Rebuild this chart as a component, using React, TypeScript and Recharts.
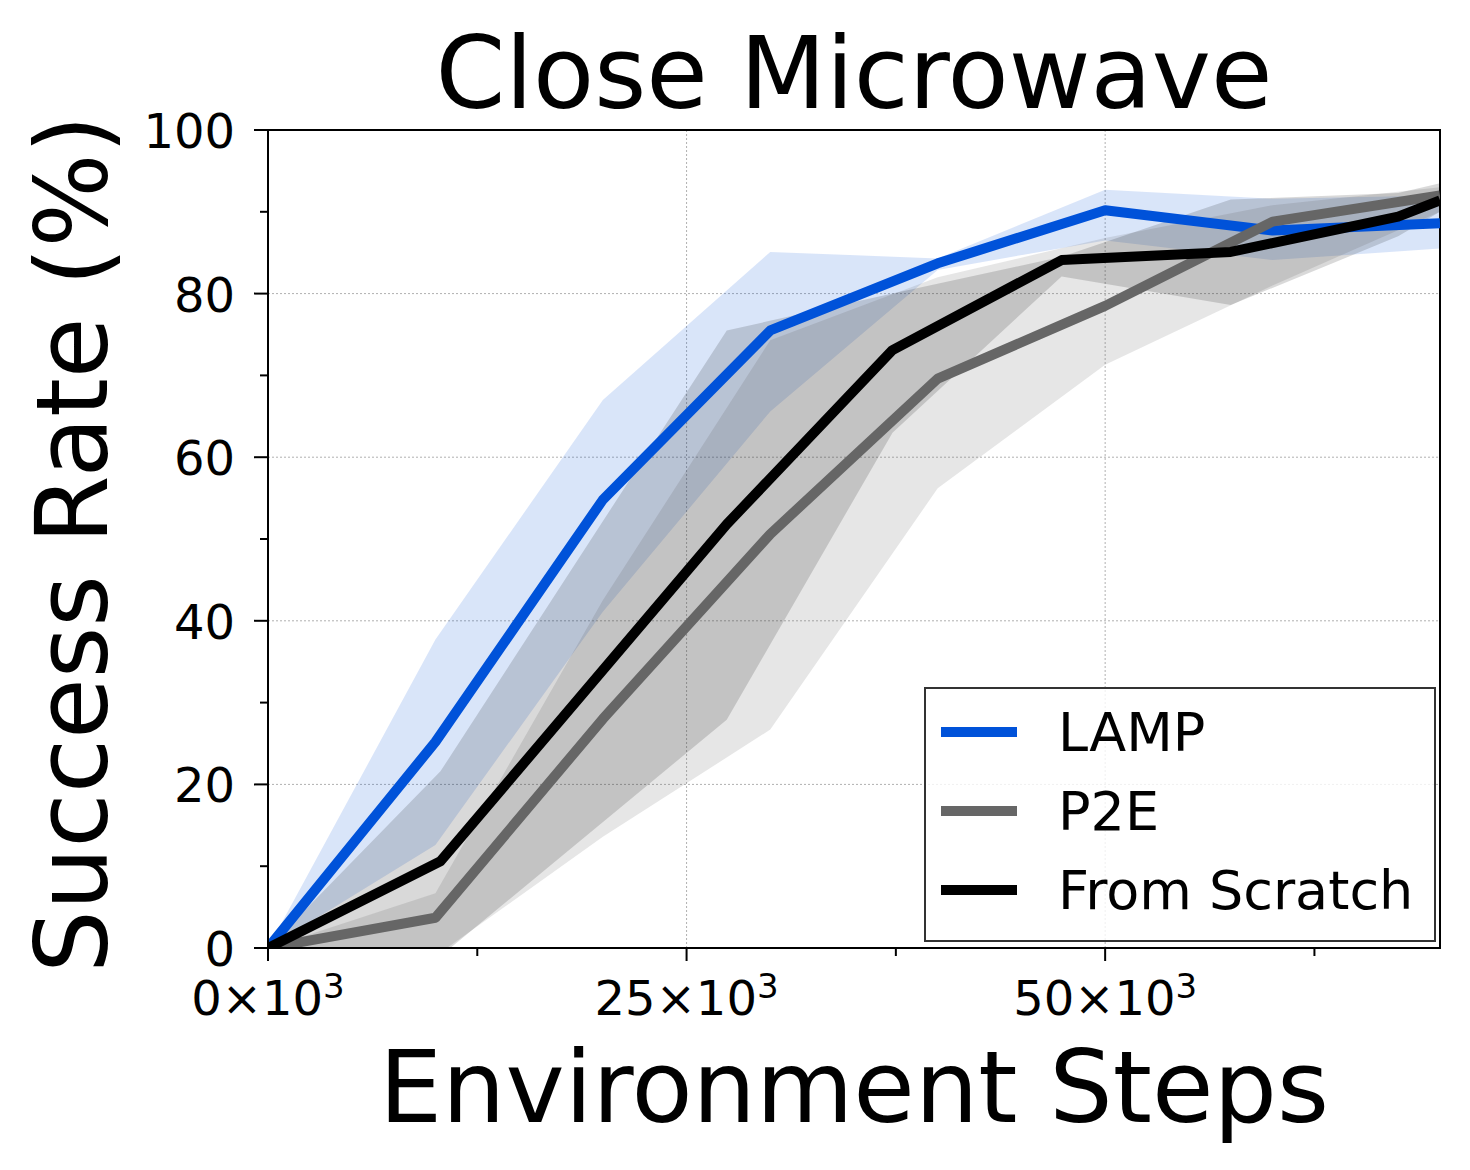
import {
  ComposedChart,
  Line,
  Area,
  XAxis,
  YAxis,
  CartesianGrid,
  ReferenceArea,
  Legend,
  Label,
} from 'recharts';

const FONT = '"DejaVu Sans", Verdana, sans-serif';

// LAMP and P2E are logged every 10k steps
const LAMP_STEPS = [0, 10000, 20000, 30000, 40000, 50000, 60000, 70000];
const LAMP_MEAN = [0, 25.2, 54.8, 75.5, 83.7, 90.2, 87.7, 88.6];
const LAMP_HIGH = [0, 37.7, 67.0, 85.1, 84.3, 92.7, 91.6, 92.0];
const LAMP_LOW = [0, 12.6, 41.1, 65.6, 82.9, 86.5, 84.1, 85.5];

const P2E_STEPS = [0, 10000, 20000, 30000, 40000, 50000, 60000, 70000];
const P2E_MEAN = [0, 3.7, 28.0, 50.6, 69.6, 78.5, 88.8, 92.0];
const P2E_HIGH = [0, 6.7, 42.5, 74.3, 82.0, 86.8, 90.8, 93.0];
const P2E_LOW = [0, -1, 13.6, 26.7, 56.2, 71.3, 81.0, 90.0];

// from-scratch runs were evaluated at other steps
const FS_STEPS = [0, 10300, 27400, 37300, 47400, 57500, 67500, 70000];
const FS_MEAN = [0, 10.6, 51.8, 73.1, 84.1, 85.1, 89.4, 91.4];
const FS_HIGH = [0, 21.6, 75.5, 80.0, 84.5, 91.5, 92.3, 93.5];
const FS_LOW = [0, -1, 27.9, 63.0, 82.1, 78.6, 87.0, 90.0];

const X_TICKS = [0, 12500, 25000, 37500, 50000, 62500];
const X_MAJOR = [0, 25000, 50000];
const Y_TICKS = [0, 10, 20, 30, 40, 50, 60, 70, 80, 90, 100];
const Y_MAJOR = [0, 20, 40, 60, 80, 100];

const SERIES = [
  { key: 'lamp', name: 'LAMP', color: '#0052d9', band: '#0052d9', bandOpacity: 0.15 },
  { key: 'p2e', name: 'P2E', color: '#666666', band: '#666666', bandOpacity: 0.16 },
  { key: 'fs', name: 'From Scratch', color: '#000000', band: '#000000', bandOpacity: 0.15 },
];

const steps = Array.from(new Set([...LAMP_STEPS, ...P2E_STEPS, ...FS_STEPS])).sort((a, b) => a - b);

const rows = steps.map((step) => {
  const row: Record<string, any> = { step };
  const a = LAMP_STEPS.indexOf(step);
  if (a >= 0) {
    row.lamp = LAMP_MEAN[a];
    row.lampBand = [LAMP_LOW[a], LAMP_HIGH[a]];
  }
  const b = P2E_STEPS.indexOf(step);
  if (b >= 0) {
    row.p2e = P2E_MEAN[b];
    row.p2eBand = [P2E_LOW[b], P2E_HIGH[b]];
  }
  const c = FS_STEPS.indexOf(step);
  if (c >= 0) {
    row.fs = FS_MEAN[c];
    row.fsBand = [FS_LOW[c], FS_HIGH[c]];
  }
  return row;
});

function XTick({ x, y, payload }: any) {
  const major = X_MAJOR.includes(payload.value);
  return (
    <g>
      <line x1={x} x2={x} y1={y} y2={y + (major ? 13 : 8)} stroke="#000" strokeWidth={2} />
      {major && (
        <text x={x} y={y + 67} textAnchor="middle" fontSize={48} fontFamily={FONT} fill="#000">
          <tspan>{payload.value / 1000}×10</tspan>
          <tspan dy={-17} fontSize={34}>3</tspan>
        </text>
      )}
    </g>
  );
}

function YTick({ x, y, payload }: any) {
  const major = Y_MAJOR.includes(payload.value);
  return (
    <g>
      <line x1={x - (major ? 14 : 8)} x2={x} y1={y} y2={y} stroke="#000" strokeWidth={2} />
      {major && (
        <text x={x - 33} y={y + 18} textAnchor="end" fontSize={48} fontFamily={FONT} fill="#000">
          {payload.value}
        </text>
      )}
    </g>
  );
}

function LegendBox() {
  const rowsY = [45, 124, 203];
  return (
    <svg width={512} height={256} style={{ display: 'block' }}>
      <rect x={1} y={1} width={510} height={253} fill="#fff" fillOpacity={0.8} stroke="#333" strokeWidth={2} />
      {SERIES.map((s, i) => (
        <g key={s.key}>
          <line x1={17} x2={93} y1={rowsY[i]} y2={rowsY[i]} stroke={s.color} strokeWidth={10} />
          <text x={134} y={rowsY[i] + 19} fontSize={54} fontFamily={FONT} fill="#000">
            {s.name}
          </text>
        </g>
      ))}
    </svg>
  );
}

export default function App() {
  return (
    <div style={{ position: 'absolute', left: 0, top: 0, width: 1470, height: 1170, background: '#fff' }}>
      <ComposedChart width={1470} height={1170} data={rows} margin={{ top: 130, right: 30, bottom: 0, left: 0 }}>
        <CartesianGrid
          horizontalValues={[20, 40, 60, 80]}
          verticalValues={[25000, 50000]}
          stroke="#b0b0b0"
          strokeWidth={1}
          strokeDasharray="2 2"
        />
        <XAxis
          dataKey="step"
          type="number"
          domain={[0, 70000]}
          ticks={X_TICKS}
          interval={0}
          allowDataOverflow
          height={222}
          tickSize={0}
          tickMargin={0}
          tickLine={false}
          axisLine={{ stroke: '#000', strokeWidth: 2 }}
          tick={<XTick />}
        >
          <Label
            content={({ viewBox }: any) => (
              <text
                x={viewBox.x + viewBox.width / 2}
                y={viewBox.y + 174}
                textAnchor="middle"
                fontSize={100}
                fontFamily={FONT}
                fill="#000"
              >
                Environment Steps
              </text>
            )}
          />
        </XAxis>
        <YAxis
          type="number"
          domain={[0, 100]}
          ticks={Y_TICKS}
          interval={0}
          allowDataOverflow
          width={268}
          tickSize={0}
          tickMargin={0}
          tickLine={false}
          axisLine={{ stroke: '#000', strokeWidth: 2 }}
          tick={<YTick />}
        >
          <Label
            content={({ viewBox }: any) => {
              const lx = viewBox.x + 107;
              const ly = viewBox.y + viewBox.height / 2 + 5;
              return (
                <text
                  x={lx}
                  y={ly}
                  transform={`rotate(-90, ${lx}, ${ly})`}
                  textAnchor="middle"
                  fontSize={100}
                  fontFamily={FONT}
                  fill="#000"
                  textLength={858}
                  lengthAdjust="spacingAndGlyphs"
                >
                  Success Rate (%)
                </text>
              );
            }}
          />
        </YAxis>

        {SERIES.map((s) => (
          <Area
            key={s.key + 'Band'}
            dataKey={s.key + 'Band'}
            type="linear"
            stroke="none"
            fill={s.band}
            fillOpacity={s.bandOpacity}
            connectNulls
            isAnimationActive={false}
            legendType="none"
            activeDot={false}
          />
        ))}
        {SERIES.map((s) => (
          <Line
            key={s.key}
            dataKey={s.key}
            name={s.name}
            type="linear"
            stroke={s.color}
            strokeWidth={10}
            strokeLinejoin="round"
            dot={false}
            activeDot={false}
            connectNulls
            isAnimationActive={false}
          />
        ))}

        <ReferenceArea
          x1={0}
          x2={70000}
          y1={0}
          y2={100}
          fill="none"
          stroke="#000"
          strokeWidth={2}
          ifOverflow="visible"
        >
          <Label
            content={({ viewBox }: any) => (
              <text
                x={viewBox.x + viewBox.width / 2}
                y={viewBox.y - 22}
                textAnchor="middle"
                fontSize={100}
                fontFamily={FONT}
                fill="#000"
              >
                Close Microwave
              </text>
            )}
          />
        </ReferenceArea>

        <Legend
          layout="horizontal"
          verticalAlign="middle"
          align="center"
          content={() => <LegendBox />}
          wrapperStyle={{ position: 'absolute', left: 924, top: 687, width: 512, height: 256 }}
        />
      </ComposedChart>
    </div>
  );
}
